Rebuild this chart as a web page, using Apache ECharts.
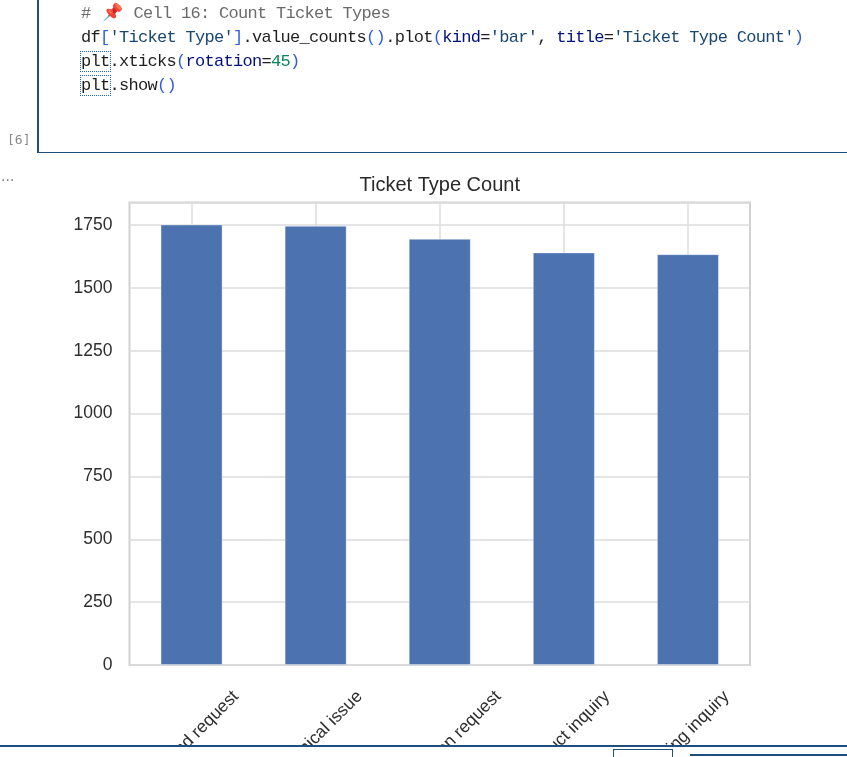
<!DOCTYPE html>
<html>
<head>
<meta charset="utf-8">
<script src="https://cdn.jsdelivr.net/npm/echarts@6/dist/echarts.min.js"></script>
<style>
  html, body { margin: 0; padding: 0; background: #fff; width: 847px; height: 757px; overflow: hidden; }
  #chart { position: absolute; left: 0; top: 0; width: 847px; height: 757px; }
  .code { position: absolute; left: 81px; top: 2px; font-family: "Liberation Mono", "DejaVu Sans Mono", monospace;
          font-size: 17px; line-height: 24px; letter-spacing: -0.7px; color: #1f1f1f; white-space: pre; z-index: 5; }
  .cm { color: #6b6b6b; }
  .br { color: #2f5fe0; }
  .st { color: #1a4670; }
  .kw { color: #001080; }
  .nu { color: #098658; }
  .hint { outline: 1px dotted #1a66c2; outline-offset: 0px; }
  .pin { display: inline-block; width: 24px; text-align: center; color: #d9262e; letter-spacing: 0; }
  .cellL { position: absolute; left: 37px; top: 0; width: 1.5px; height: 153px; background: #1f4f80; z-index: 5; }
  .cellB { position: absolute; left: 37px; top: 151.5px; width: 810px; height: 1.5px; background: #1f4f80; z-index: 5; }
  .exec { position: absolute; left: 7px; top: 132px; font-family: "DejaVu Sans Mono", monospace; font-size: 13px; color: #8a8a8a; z-index: 5; }
  .dots { position: absolute; left: 1px; top: 168px; font-family: "DejaVu Sans", sans-serif; font-size: 14px; color: #777; z-index: 5; letter-spacing: 0; }
  .bottom { position: absolute; left: 0; top: 745px; width: 847px; height: 12px; background: #fff; z-index: 6; }
  .bline { position: absolute; left: 0; top: 0; width: 847px; height: 2px; background: #1f4f80; }
  .bbox { position: absolute; left: 613px; top: 4px; width: 58px; height: 12px; border: 1px solid #1f4f80; border-bottom: none; }
  .bline2 { position: absolute; left: 690px; top: 9px; width: 157px; height: 1.5px; background: #1f4f80; }
</style>
</head>
<body>
<div id="chart"></div>
<div class="cellL"></div>
<div class="cellB"></div>
<div class="code"><span class="cm"># <span class="pin">📌</span> Cell 16: Count Ticket Types</span>
df<span class="br">[</span><span class="st">'Ticket Type'</span><span class="br">]</span>.value_counts<span class="br">()</span>.plot<span class="br">(</span><span class="kw">kind</span>=<span class="st">'bar'</span>, <span class="kw">title</span>=<span class="st">'Ticket Type Count'</span><span class="br">)</span>
<span class="hint">plt</span>.xticks<span class="br">(</span><span class="kw">rotation</span>=<span class="nu">45</span><span class="br">)</span>
<span class="hint">plt</span>.show<span class="br">()</span></div>
<div class="exec">[6]</div>
<div class="dots">...</div>
<div class="bottom"><div class="bline"></div><div class="bbox"></div><div class="bline2"></div></div>
<script>
// ---- data ----
const chartTitle = 'Ticket Type Count';
const categories = ['Refund request', 'Technical issue', 'Cancellation request', 'Product inquiry', 'Billing inquiry'];
const counts = [1752, 1747, 1695, 1641, 1634];
const yTicks = [0, 250, 500, 750, 1000, 1250, 1500, 1750];

// ---- chart ----
const chart = echarts.init(document.getElementById('chart'), null, { renderer: 'canvas' });
const labelFont = '17.5px "Liberation Sans", Arial, sans-serif';
const titleFont = '20px "Liberation Sans", Arial, sans-serif';
const measure = (txt, font) => { const c = document.createElement('canvas').getContext('2d'); c.font = font; return c.measureText(txt).width; };

const plotLeft = 129.5, plotRight = 750, plotTop = 202.5, plotBottom = 665;
const yMax = Math.max(...counts) * 1.05;
const titleW = measure(chartTitle, titleFont);

chart.setOption({
  animation: false,
  title: {
    text: chartTitle,
    left: (plotLeft + plotRight) / 2 - titleW / 2 - 5,
    top: 170,
    textStyle: { fontFamily: '"Liberation Sans", Arial, sans-serif', fontSize: 20, fontWeight: 'normal', color: '#2a2a2a' }
  },
  grid: {
    left: plotLeft, right: 847 - plotRight, top: plotTop, bottom: 757 - plotBottom,
    show: true, borderColor: '#d0d0d0', borderWidth: 2, backgroundColor: 'transparent'
  },
  xAxis: {
    type: 'category',
    data: categories,
    axisLine: { show: false },
    axisTick: { show: false, alignWithLabel: true },
    axisLabel: { show: false },
    splitLine: { show: true, interval: 0, alignWithLabel: true, lineStyle: { color: '#dcdcdc', width: 1.5 } }
  },
  yAxis: {
    type: 'value',
    min: yTicks[0],
    max: yMax,
    interval: yTicks[1] - yTicks[0],
    axisLine: { show: false },
    axisTick: { show: false },
    axisLabel: {
      showMaxLabel: false,
      margin: 17,
      formatter: v => String(v),
      fontFamily: '"Liberation Sans", Arial, sans-serif', fontSize: 17.5, color: '#2e2e2e'
    },
    splitLine: { show: true, lineStyle: { color: '#dcdcdc', width: 1.5 } }
  },
  series: [{
    type: 'bar',
    data: counts,
    barWidth: '50%',
    itemStyle: { color: '#4c72b0', borderColor: 'rgba(255,255,255,0.35)', borderWidth: 1 }
  }]
});

// rotated tick labels, matplotlib-style (rotation=45, centred on the tick)
const y0 = chart.convertToPixel({ yAxisIndex: 0 }, 0);
const lineH = 22;
const labelGraphics = categories.map((c, i) => {
  const x = chart.convertToPixel({ xAxisIndex: 0 }, c);
  const L = measure(c, labelFont);
  const half = (L + lineH) * Math.SQRT1_2 / 2;
  return {
    type: 'text',
    x: x + 2,
    y: y0 + 21 + half,
    rotation: Math.PI / 4,
    z: 10,
    style: { text: c, font: labelFont, fill: '#2e2e2e', align: 'center', verticalAlign: 'middle' }
  };
});
chart.setOption({ graphic: labelGraphics });
</script>
</body>
</html>
